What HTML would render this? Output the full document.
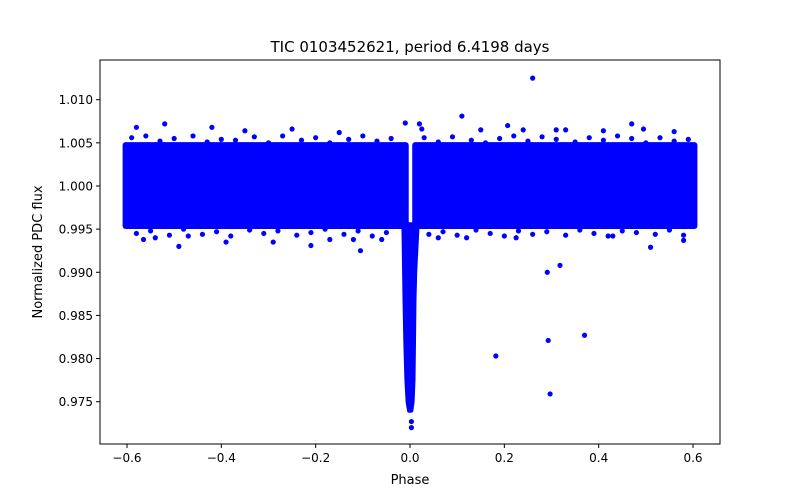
<!DOCTYPE html>
<html><head><meta charset="utf-8"><style>
body{margin:0;background:#fff}
svg{display:block;font-family:"DejaVu Sans","Liberation Sans",sans-serif}
</style></head><body>
<svg id="chart" width="800" height="500" viewBox="0 0 800 500" xmlns="http://www.w3.org/2000/svg">
<rect width="800" height="500" fill="#fff"/>
<g id="plot"></g>
<g id="axes"></g>
</svg>
<script>
// data
const xTicks=[-0.6,-0.4,-0.2,0.0,0.2,0.4,0.6];
const xTickLabels=["−0.6","−0.4","−0.2","0.0","0.2","0.4","0.6"];
const yTicks=[0.975,0.980,0.985,0.990,0.995,1.000,1.005,1.010];
const yTickLabels=["0.975","0.980","0.985","0.990","0.995","1.000","1.005","1.010"];
// dense noise bands: [phaseStart, phaseEnd, fluxLow, fluxHigh]
const bandStart=[-0.604,0.010];
const bandEnd=[-0.008,0.604];
const bandLow=[0.9953,0.9953];
const bandHigh=[1.0048,1.0048];
// transit dip edges
const dipFlux=[0.9955,0.9900,0.9868,0.9820,0.9775,0.9750,0.9740];
const dipLeft=[-0.0130,-0.0115,-0.0106,-0.0090,-0.0066,-0.0040,-0.0010];
const dipRight=[0.0150,0.0100,0.0085,0.0075,0.0064,0.0045,0.0020];
// outlier / fringe points
const ptPhase=[0.26,0.11,-0.105,-0.01,0.02,0.207,-0.42,-0.49,-0.565,-0.29,0.291,0.318,0.182,0.293,0.37,0.297,0.003,0.003,-0.39,-0.52,-0.21,0.51,0.495,-0.15,0.31,0.47,-0.58,0.58,-0.35,0.025,-0.12,0.12,-0.47,0.24,0.41,-0.25,0.06,-0.06,0.33,0.43,0.56,-0.54,0.15,-0.17,0.225,0.0,-0.005];
const ptFlux=[1.0125,1.0081,0.9925,1.0073,1.0072,1.0070,1.0068,0.9930,0.9938,0.9935,0.9900,0.9908,0.9803,0.9821,0.9827,0.9759,0.9727,0.9720,0.9935,1.0072,0.9931,0.9929,1.0066,1.0062,1.0065,1.0072,1.0068,0.9937,1.0064,1.0066,0.9938,0.9940,0.9942,1.0065,1.0064,1.0066,0.9940,0.9938,1.0065,0.9942,1.0063,0.9940,1.0065,0.9938,0.9940,0.9920,0.9921];
// ragged edge points along band
const edgePhase=[-0.59,-0.56,-0.53,-0.5,-0.46,-0.43,-0.4,-0.37,-0.33,-0.3,-0.27,-0.23,-0.2,-0.17,-0.13,-0.1,-0.07,-0.04,0.03,0.06,0.09,0.13,0.16,0.19,0.22,0.25,0.28,0.31,0.35,0.38,0.41,0.44,0.47,0.5,0.53,0.56,0.59,
 -0.58,-0.55,-0.51,-0.48,-0.44,-0.41,-0.38,-0.34,-0.31,-0.28,-0.24,-0.21,-0.18,-0.14,-0.11,-0.08,-0.05,0.04,0.07,0.1,0.14,0.17,0.2,0.23,0.26,0.29,0.33,0.36,0.39,0.42,0.45,0.48,0.52,0.55,0.58];
const edgeFlux=[1.0056,1.0058,1.0052,1.0055,1.0058,1.0051,1.0054,1.0053,1.0057,1.0050,1.0058,1.0053,1.0056,1.0050,1.0054,1.0058,1.0052,1.0055,1.0056,1.0051,1.0057,1.0053,1.0050,1.0055,1.0058,1.0052,1.0057,1.0054,1.0051,1.0056,1.0053,1.0058,1.0055,1.0050,1.0056,1.0052,1.0054,
 0.9945,0.9948,0.9943,0.9950,0.9944,0.9947,0.9942,0.9949,0.9945,0.9948,0.9943,0.9946,0.9950,0.9944,0.9948,0.9942,0.9946,0.9944,0.9947,0.9943,0.9949,0.9945,0.9942,0.9948,0.9944,0.9947,0.9943,0.9949,0.9945,0.9942,0.9948,0.9946,0.9944,0.9949,0.9943,0.9947];

const X0=100,X1=720,Y0=60,Y1=444;
const xMin=-0.6572,xMax=0.6572,yMin=0.97010,yMax=1.01460;
const sx=v=>X0+(v-xMin)/(xMax-xMin)*(X1-X0);
const sy=v=>Y1-(v-yMin)/(yMax-yMin)*(Y1-Y0);
const NS="http://www.w3.org/2000/svg";
const plot=document.getElementById('plot'),axes=document.getElementById('axes');
function mk(t,a,p){const e=document.createElementNS(NS,t);for(const k in a)e.setAttribute(k,a[k]);p.appendChild(e);return e;}
const B="#0000ff";
for(let i=0;i<bandStart.length;i++){
  const r=mk('rect',{x:sx(bandStart[i])-2.5,y:sy(bandHigh[i])-2.5,width:sx(bandEnd[i])-sx(bandStart[i])+5,height:sy(bandLow[i])-sy(bandHigh[i])+5,rx:3,fill:B},plot);
  
  
}
let pts=[];
for(let i=0;i<dipFlux.length;i++)pts.push(sx(dipLeft[i]).toFixed(1)+','+sy(dipFlux[i]).toFixed(1));
for(let i=dipFlux.length-1;i>=0;i--)pts.push(sx(dipRight[i]).toFixed(1)+','+sy(dipFlux[i]).toFixed(1));
const dip=mk('polygon',{points:pts.join(' '),fill:B,stroke:B,'stroke-width':5,'stroke-linejoin':'round'},plot);


for(let i=0;i<edgePhase.length;i++){
  const c=mk('circle',{cx:sx(edgePhase[i]),cy:sy(edgeFlux[i]),r:2.6,fill:B},plot);
  
  
}
for(let i=0;i<ptPhase.length;i++){
  const c=mk('circle',{cx:sx(ptPhase[i]),cy:sy(ptFlux[i]),r:2.6,fill:B},plot);
  
  
}
const fr=mk('rect',{x:X0,y:Y0,width:X1-X0,height:Y1-Y0,fill:'none',stroke:'#000','stroke-width':1},axes);


xTicks.forEach((v,i)=>{const x=sx(v);
  mk('line',{x1:x,y1:Y1,x2:x,y2:Y1+4,stroke:'#000'},axes);
  const t=mk('text',{x:x,y:Y1+18,'font-size':12,'text-anchor':'middle'},axes);t.textContent=xTickLabels[i];
  
  
});
yTicks.forEach((v,i)=>{const y=sy(v);
  mk('line',{x1:X0-4,y1:y,x2:X0,y2:y,stroke:'#000'},axes);
  const t=mk('text',{x:X0-7,y:y+4.5,'font-size':12,'text-anchor':'end'},axes);t.textContent=yTickLabels[i];
  
  
});
let t=mk('text',{x:410,y:484,'font-size':13,'text-anchor':'middle'},axes);t.textContent='Phase';


t=mk('text',{x:42,y:252,'font-size':13,'text-anchor':'middle',transform:'rotate(-90 42 252)'},axes);t.textContent='Normalized PDC flux';


t=mk('text',{x:410,y:52,'font-size':15,'text-anchor':'middle'},axes);t.textContent='TIC 0103452621, period 6.4198 days';


</script>
</body></html>
